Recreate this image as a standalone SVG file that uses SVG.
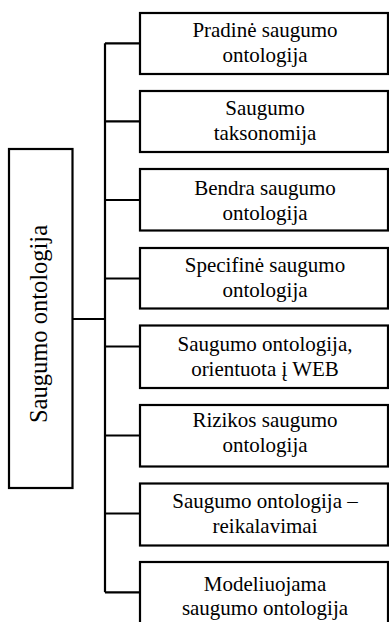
<svg xmlns="http://www.w3.org/2000/svg" width="389" height="622" viewBox="0 0 389 622">
<style>
.box{fill:#fff;stroke:#000;stroke-width:2.2}
.t{font-family:"Liberation Serif","Times New Roman",serif;font-size:21px;fill:#000;text-anchor:middle}
.c{fill:none;stroke:#000;stroke-width:2.2}
</style>
<rect width="389" height="622" fill="#fff"/>
<g id="connectors">
<path class="c" d="M105,43.3V592.3M72,319H105M105,43.3H140M105,121.3H140M105,200H140M105,278.5H140M105,346.5H140M105,435.5H140M105,513.5H140M105,592.3H140"/>
</g>
<g id="root">
<rect class="box" x="9" y="149" width="63.5" height="339"/>
<text class="t" style="font-size:24.5px" transform="translate(47,324) rotate(-90)">Saugumo ontologija</text>
</g>
<g id="n1">
<rect class="box" x="140" y="13" width="248" height="61"/>
<text class="t" x="265" y="37">Pradinė saugumo</text>
<text class="t" x="265" y="62">ontologija</text>
</g>
<g id="n2">
<rect class="box" x="140" y="91" width="248" height="61"/>
<text class="t" x="265" y="115">Saugumo</text>
<text class="t" x="265" y="140">taksonomija</text>
</g>
<g id="n3">
<rect class="box" x="140" y="169" width="248" height="61.5"/>
<text class="t" x="265" y="194.5">Bendra saugumo</text>
<text class="t" x="265" y="219.5">ontologija</text>
</g>
<g id="n4">
<rect class="box" x="140" y="248" width="248" height="60.5"/>
<text class="t" x="265" y="272">Specifinė saugumo</text>
<text class="t" x="265" y="297">ontologija</text>
</g>
<g id="n5">
<rect class="box" x="140" y="325.5" width="248" height="62.5"/>
<text class="t" x="265" y="350.5">Saugumo ontologija,</text>
<text class="t" x="265" y="375.5">orientuota į WEB</text>
</g>
<g id="n6">
<rect class="box" x="140" y="405" width="248" height="61.5"/>
<text class="t" x="265" y="426.5">Rizikos saugumo</text>
<text class="t" x="265" y="451.5">ontologija</text>
</g>
<g id="n7">
<rect class="box" x="140" y="483.5" width="248" height="62"/>
<text class="t" x="265" y="507.5">Saugumo ontologija –</text>
<text class="t" x="265" y="532.5">reikalavimai</text>
</g>
<g id="n8">
<rect class="box" x="140" y="562" width="248" height="70"/>
<text class="t" x="265" y="590.5">Modeliuojama</text>
<text class="t" x="265" y="615">saugumo ontologija</text>
</g>
</svg>
